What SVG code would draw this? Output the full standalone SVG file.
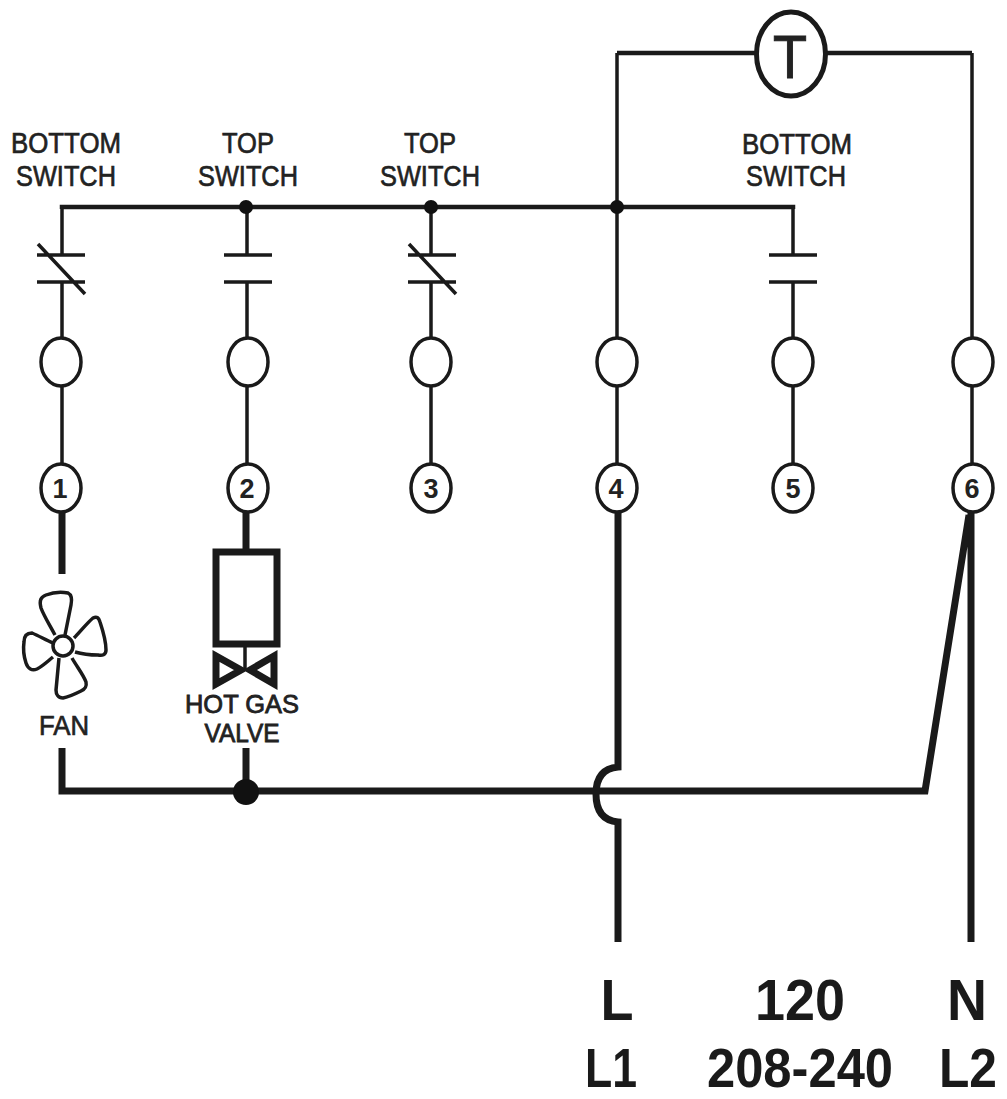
<svg xmlns="http://www.w3.org/2000/svg" width="1007" height="1099" viewBox="0 0 1007 1099">
<style>
text{font-family:"Liberation Sans",Arial,sans-serif;fill:#222;text-anchor:middle}
.lab{font-size:30px;stroke:#222;stroke-width:.7px}
.small{font-size:28px;stroke:#222;stroke-width:.7px}
.valve{font-size:25px;stroke:#222;stroke-width:.8px}
.big{font-size:58px;font-weight:bold;fill:#1a1a1a}
.big2{font-size:56px;font-weight:bold;fill:#1a1a1a}
.num{font-size:27px;font-weight:bold}
.thin{fill:none;stroke:#1a1a1a;stroke-width:3.5}
.mid{fill:none;stroke:#1a1a1a;stroke-width:4.5}
.thick{fill:none;stroke:#1a1a1a;stroke-width:7}
.term{fill:#fff;stroke:#1a1a1a;stroke-width:3.5}
.dot{fill:#111}
</style>
<rect width="1007" height="1099" fill="#fff"/>
<g id="connectors">
<path class="mid" d="M62 209V207H793V209M617 53H757M825 53H972"/>
<path class="thin" d="M62 207V255M62 282V338M247 207V255M247 282V338M431 207V255M431 282V338M793 207V255M793 282V338M617 53V338M972 53V338"/>
<path class="thin" d="M62 386V464M247 386V464M431 386V464M617 386V464M793 386V464M972 386V464"/>
<path class="thick" d="M62 512V574M246 512V549M62 748V791H925L969 515M246 748V791M618 512V767Q596 769 596 794Q596 820 618 822V942M971 512V942"/>
<circle class="dot" cx="246" cy="207" r="7"/><circle class="dot" cx="431" cy="207" r="7"/><circle class="dot" cx="617" cy="207" r="7"/><circle class="dot" cx="246" cy="792" r="13"/>
</g>
<g id="bottom-switch-left">
<path class="thin" d="M37 255H85M37 282H85M38 244L85 294"/>
<text class="lab" x="66" y="153" textLength="110" lengthAdjust="spacingAndGlyphs">BOTTOM</text><text class="lab" x="66" y="186" textLength="100" lengthAdjust="spacingAndGlyphs">SWITCH</text>
</g>
<g id="top-switch-2">
<path class="thin" d="M224 255H272M224 282H272"/>
<text class="lab" x="248" y="153" textLength="52" lengthAdjust="spacingAndGlyphs">TOP</text><text class="lab" x="248" y="186" textLength="100" lengthAdjust="spacingAndGlyphs">SWITCH</text>
</g>
<g id="top-switch-3">
<path class="thin" d="M408 255H456M408 282H456M409 244L456 294"/>
<text class="lab" x="430" y="153" textLength="52" lengthAdjust="spacingAndGlyphs">TOP</text><text class="lab" x="430" y="186" textLength="100" lengthAdjust="spacingAndGlyphs">SWITCH</text>
</g>
<g id="bottom-switch-right">
<path class="thin" d="M769 255H817M769 282H817"/>
<text class="lab" x="797" y="154" textLength="110" lengthAdjust="spacingAndGlyphs">BOTTOM</text><text class="lab" x="796" y="186" textLength="100" lengthAdjust="spacingAndGlyphs">SWITCH</text>
</g>
<g id="thermostat">
<ellipse cx="791" cy="54" rx="34.5" ry="42" fill="#fff" stroke="#1a1a1a" stroke-width="5"/>
<text x="790" y="78" font-size="62" stroke="#222" stroke-width="1" textLength="34" lengthAdjust="spacingAndGlyphs">T</text>
</g>
<g id="terminals-upper">
<ellipse class="term" cx="61" cy="362" rx="20" ry="24"/><ellipse class="term" cx="248" cy="362" rx="20" ry="24"/><ellipse class="term" cx="431" cy="362" rx="20" ry="24"/><ellipse class="term" cx="617" cy="362" rx="20" ry="24"/><ellipse class="term" cx="793" cy="362" rx="20" ry="24"/><ellipse class="term" cx="973" cy="362" rx="20" ry="24"/>
</g>
<g id="terminal-1"><ellipse class="term" cx="61" cy="488" rx="20" ry="24"/><text class="num" x="60" y="498">1</text></g>
<g id="terminal-2"><ellipse class="term" cx="248" cy="488" rx="20" ry="24"/><text class="num" x="247" y="498">2</text></g>
<g id="terminal-3"><ellipse class="term" cx="431" cy="488" rx="20" ry="24"/><text class="num" x="431" y="498">3</text></g>
<g id="terminal-4"><ellipse class="term" cx="617" cy="488" rx="20" ry="24"/><text class="num" x="616" y="498">4</text></g>
<g id="terminal-5"><ellipse class="term" cx="793" cy="488" rx="20" ry="24"/><text class="num" x="793" y="498">5</text></g>
<g id="terminal-6"><ellipse class="term" cx="973" cy="488" rx="20" ry="24"/><text class="num" x="972" y="498">6</text></g>
<g id="fan">
<path class="thin" d="M55 635C48 622 44 616 41 608C39 600 41 597 46 595C54 592 62 592 68 593C72 595 72 600 71 605C69 615 67 625 65 635"/>
<path class="thin" d="M74 638C80 632 87 623 93 618C97 616 99 618 100 622C103 631 106 642 106 650C106 655 102 656 98 655C90 655 82 654 75 652"/>
<path class="thin" d="M53 643C46 640 39 636 32 633C27 633 24 636 24 642C23 649 24 657 26 663C28 669 32 671 37 669C43 666 48 661 53 657"/>
<path class="thin" d="M72 658C77 667 83 674 86 682C87 687 85 689 81 691C75 694 69 697 63 698C58 698 56 694 56 690C57 680 58 669 59 658"/>
<circle class="thin" cx="63" cy="646" r="10" stroke-width="2.5"/>
<text class="small" x="64" y="735" textLength="50" lengthAdjust="spacingAndGlyphs">FAN</text>
</g>
<g id="hot-gas-valve">
<rect class="thick" x="216" y="552" width="61" height="92"/>
<path class="thin" d="M245 647V670"/>
<path fill="none" stroke="#1a1a1a" stroke-width="7" stroke-linejoin="miter" d="M216 656V684L241 670ZM274 656V684L250 670Z"/>
<text class="valve" x="242" y="713" textLength="114" lengthAdjust="spacingAndGlyphs">HOT GAS</text>
<text class="valve" x="242" y="742" textLength="75" lengthAdjust="spacingAndGlyphs">VALVE</text>
</g>
<g id="supply-labels">
<text class="big" x="617" y="1020" textLength="33" lengthAdjust="spacingAndGlyphs">L</text>
<text class="big" x="800" y="1020" textLength="90" lengthAdjust="spacingAndGlyphs">120</text>
<text class="big" x="967" y="1020" textLength="40" lengthAdjust="spacingAndGlyphs">N</text>
<text class="big2" x="611" y="1087" textLength="52" lengthAdjust="spacingAndGlyphs">L1</text>
<text class="big2" x="800" y="1087" textLength="186" lengthAdjust="spacingAndGlyphs">208-240</text>
<text class="big2" x="968" y="1087" textLength="58" lengthAdjust="spacingAndGlyphs">L2</text>
</g>
</svg>
